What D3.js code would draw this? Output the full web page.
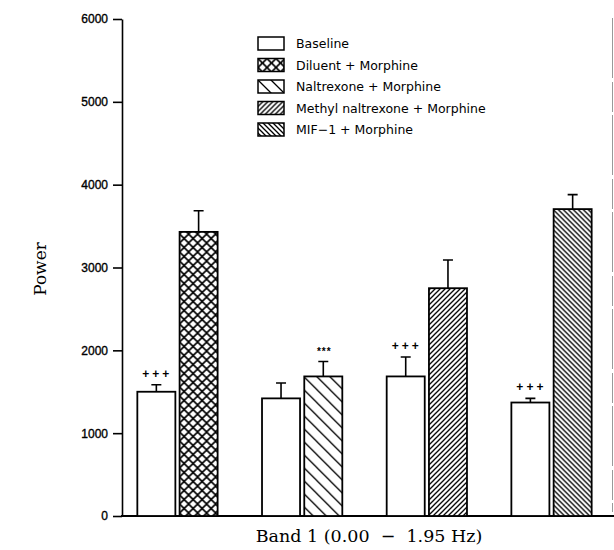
<!DOCTYPE html>
<html lang="en">
<head>
    <meta charset="UTF-8">
    <title>Band 1 power</title>
    <style type="text/css">
        body { margin: 0; background: #fff; }
        .bar { stroke: #000; stroke-width: 1.8; }
        .err { stroke: #000; stroke-width: 1.6; fill: none; }
        .axis path, .axis line { stroke: #000; stroke-width: 1.6; }
        .axis text { font-family: "Liberation Sans", Arial, sans-serif; font-size: 12px; fill: #000; stroke: #000; stroke-width: 0.35; }
        .legend text { font-family: "DejaVu Sans", sans-serif; font-size: 12.5px; fill: #000; }
        .mark { font-family: "Liberation Sans", Arial, sans-serif; font-weight: bold; }
        .title { font-family: "DejaVu Serif", "Liberation Serif", serif; fill: #000; }
    </style>
</head>
<body>
    <svg></svg>

    <script src="https://d3js.org/d3.v7.min.js"></script>
    <script>
        // values
        const groups = ['Diluent + Morphine', 'Naltrexone + Morphine', 'Methyl naltrexone + Morphine', 'MIF\u22121 + Morphine'];
        const baseline = [1500, 1420, 1685, 1370];
        const baselineErr = [85, 185, 235, 50];
        const treatment = [3430, 1685, 2750, 3705];
        const treatmentErr = [255, 180, 340, 175];
        const baselineMarks = ['+++', '', '+++', '+++'];
        const treatmentMarks = ['', '***', '', ''];
        const yTicks = [0, 1000, 2000, 3000, 4000, 5000, 6000];
        const legendLabels = ['Baseline'].concat(groups);
        const fills = ['white', 'url(#cross)', 'url(#sparse)', 'url(#fwd)', 'url(#back)'];

        var svgWidth = 614
        var svgHeight = 550

        var svg = d3.select('svg')
            .attr('width', svgWidth)
            .attr('height', svgHeight)

        // hatch patterns
        var defs = svg.append('defs')
        function pattern(id, size, paths, w) {
            var p = defs.append('pattern')
                .attr('id', id)
                .attr('patternUnits', 'userSpaceOnUse')
                .attr('width', size)
                .attr('height', size)
            p.append('rect').attr('width', size).attr('height', size).attr('fill', 'white')
            paths.forEach(function(d) {
                p.append('path').attr('d', d).attr('stroke', '#000').attr('stroke-width', w).attr('fill', 'none')
            })
        }
        pattern('cross', 9, ['M0,0L9,9M-1,8L1,10M8,-1L10,1', 'M0,9L9,0M-1,1L1,-1M8,10L10,8'], 1.6)
        pattern('sparse', 13, ['M0,0L13,13M-2,11L2,15M11,-2L15,2'], 1.3)
        pattern('fwd', 5, ['M0,5L5,0M-1,1L1,-1M4,6L6,4'], 1.3)
        pattern('back', 5, ['M0,0L5,5M-1,4L1,6M4,-1L6,1'], 1.3)

        var y = d3.scaleLinear().domain([0, 6000]).range([516, 19])
        var x = d3.scaleBand().domain(groups).range([122, 607]).paddingInner(0.356).paddingOuter(0.123)
        var sub = d3.scaleBand().domain(['baseline', 'treatment']).range([0, x.bandwidth()]).paddingInner(0.1)

        // faint edge of the neighbouring panel
        svg.append('line')
            .attr('x1', 612.5).attr('x2', 612.5)
            .attr('y1', 18).attr('y2', 512)
            .attr('stroke', '#999').attr('stroke-width', 1)
            .attr('stroke-dasharray', '60,4,30,3')

        svg.append('g')
            .attr('class', 'axis')
            .attr('transform', 'translate(122,0)')
            .call(d3.axisLeft(y).tickValues(yTicks).tickFormat(d3.format('d'))
                .tickSizeInner(9).tickSizeOuter(0).tickPadding(5))

        svg.append('line')
            .attr('x1', 121).attr('x2', 614)
            .attr('y1', y(0)).attr('y2', y(0))
            .attr('stroke', '#000').attr('stroke-width', 1.8)

        var rows = groups.map(function(g, i) {
            return [
                { key: 'baseline', g: g, v: baseline[i], e: baselineErr[i], m: baselineMarks[i], fill: fills[0] },
                { key: 'treatment', g: g, v: treatment[i], e: treatmentErr[i], m: treatmentMarks[i], fill: fills[i + 1] }
            ]
        }).flat()

        var bars = svg.selectAll('g.b')
            .data(rows)
            .enter()
            .append('g')
            .attr('class', 'b')
            .attr('transform', function(d) { return 'translate(' + (x(d.g) + sub(d.key)) + ',0)' })

        bars.append('path')
            .attr('class', 'err')
            .attr('d', function(d) {
                var c = sub.bandwidth() / 2
                return 'M' + c + ',' + y(d.v) + 'V' + y(d.v + d.e) + 'M' + (c - 5) + ',' + y(d.v + d.e) + 'H' + (c + 5)
            })

        bars.append('rect')
            .attr('class', 'bar')
            .attr('y', function(d) { return y(d.v) })
            .attr('height', function(d) { return y(0) - y(d.v) })
            .attr('width', sub.bandwidth())
            .attr('fill', function(d) { return d.fill })

        bars.append('text')
            .attr('class', 'mark')
            .attr('x', sub.bandwidth() / 2 + 1)
            .attr('y', function(d) { return y(d.v + d.e) - 7 })
            .attr('text-anchor', 'middle')
            .attr('font-size', function(d) { return d.m === '***' ? '10px' : '12px' })
            .attr('letter-spacing', function(d) { return d.m === '***' ? '1px' : '3px' })
            .text(function(d) { return d.m })

        // legend
        var legend = svg.append('g').attr('class', 'legend')
        var items = legend.selectAll('g')
            .data(legendLabels)
            .enter()
            .append('g')
            .attr('transform', function(d, i) { return 'translate(258,' + (37 + i * 21.5) + ')' })
        items.append('rect')
            .attr('width', 26).attr('height', 13)
            .attr('fill', function(d, i) { return fills[i] })
            .attr('stroke', '#000').attr('stroke-width', 1.5)
        items.append('text')
            .attr('x', 38).attr('y', 11)
            .text(function(d) { return d })

        svg.append('text')
            .attr('class', 'title')
            .attr('transform', 'translate(46,269) rotate(-90)')
            .attr('text-anchor', 'middle')
            .attr('font-size', '17px')
            .text('Power')

        svg.append('text')
            .attr('class', 'title')
            .attr('x', 369).attr('y', 542)
            .attr('text-anchor', 'middle')
            .attr('font-size', '17.5px')
            .attr('xml:space', 'preserve')
            .text('Band 1 (0.00  \u2212  1.95 Hz)')
    </script>
</body>
</html>
